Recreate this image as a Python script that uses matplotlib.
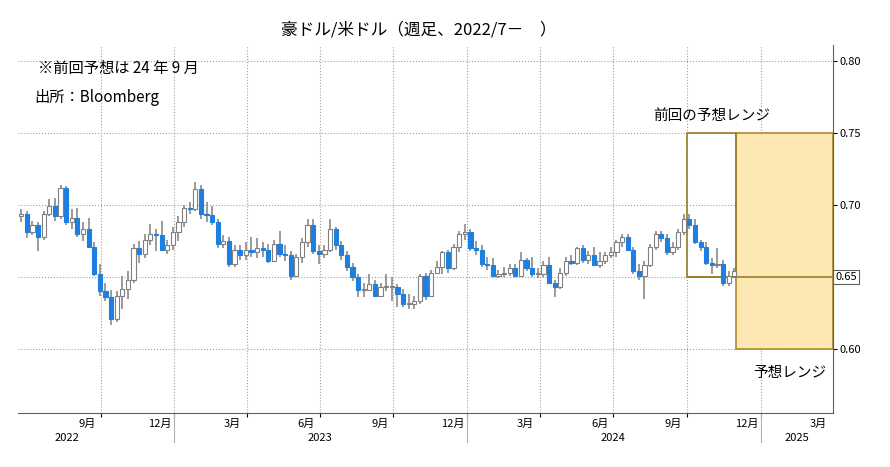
import matplotlib
matplotlib.use("Agg")
import matplotlib.pyplot as plt
import matplotlib.dates as mdates
import matplotlib.transforms as mtrans
import pandas as pd
from matplotlib.patches import Rectangle

plt.rcParams['font.family'] = ['Noto Sans CJK JP', 'DejaVu Sans']

start_date = "2022-06-24"
opens = [0.692,0.694,0.681,0.686,0.678,0.694,0.699,0.692,0.712,0.688,0.691,0.680,0.683,0.671,0.652,0.640,0.636,0.621,0.637,0.642,
0.648,0.670,0.666,0.676,0.680,0.679,0.669,0.672,0.681,0.688,0.698,0.697,0.711,0.694,0.693,0.688,0.673,0.675,0.659,0.669,
0.665,0.669,0.667,0.670,0.669,0.661,0.673,0.666,0.665,0.651,0.664,0.674,0.686,0.668,0.666,0.669,0.683,0.672,0.665,0.657,
0.650,0.641,0.641,0.645,0.637,0.643,0.643,0.643,0.638,0.631,0.631,0.633,0.651,0.637,0.653,0.657,0.667,0.656,0.671,0.680,
0.681,0.670,0.669,0.659,0.658,0.651,0.652,0.653,0.656,0.651,0.662,0.656,0.652,0.652,0.658,0.646,0.643,0.653,0.661,0.660,
0.670,0.662,0.665,0.658,0.661,0.665,0.667,0.674,0.678,0.669,0.654,0.651,0.658,0.671,0.680,0.677,0.667,0.671,0.681,0.690,
0.686,0.674,0.671,0.660,0.658,0.659,0.646,0.651]
closes = [0.694,0.681,0.686,0.678,0.694,0.699,0.692,0.712,0.688,0.691,0.680,0.683,0.671,0.652,0.640,0.636,0.621,0.637,0.642,0.648,
0.670,0.666,0.676,0.680,0.679,0.669,0.672,0.681,0.688,0.698,0.697,0.711,0.694,0.693,0.688,0.673,0.675,0.659,0.669,0.665,
0.669,0.667,0.670,0.669,0.661,0.673,0.666,0.665,0.651,0.664,0.674,0.686,0.668,0.666,0.669,0.683,0.672,0.665,0.657,0.650,
0.641,0.641,0.645,0.637,0.643,0.643,0.643,0.638,0.631,0.631,0.633,0.651,0.637,0.653,0.657,0.667,0.656,0.671,0.680,0.681,
0.670,0.669,0.659,0.658,0.651,0.652,0.653,0.656,0.651,0.662,0.656,0.652,0.652,0.658,0.646,0.643,0.653,0.661,0.660,0.670,
0.662,0.665,0.658,0.661,0.665,0.667,0.674,0.678,0.669,0.654,0.651,0.658,0.671,0.680,0.677,0.667,0.671,0.681,0.690,0.686,
0.674,0.671,0.660,0.658,0.659,0.646,0.651,0.654]
highs = [0.697,0.696,0.689,0.688,0.696,0.704,0.705,0.714,0.713,0.697,0.698,0.688,0.691,0.674,0.659,0.646,0.641,0.640,0.651,0.654,
0.673,0.675,0.680,0.687,0.683,0.689,0.676,0.685,0.692,0.700,0.702,0.716,0.714,0.702,0.699,0.690,0.679,0.678,0.672,0.672,
0.674,0.678,0.677,0.674,0.673,0.676,0.682,0.672,0.668,0.666,0.677,0.690,0.690,0.672,0.672,0.690,0.685,0.675,0.668,0.660,
0.652,0.646,0.652,0.648,0.646,0.652,0.650,0.645,0.642,0.638,0.637,0.652,0.653,0.655,0.661,0.668,0.669,0.673,0.682,0.687,
0.683,0.675,0.672,0.664,0.663,0.655,0.657,0.659,0.659,0.667,0.663,0.664,0.656,0.661,0.664,0.648,0.656,0.664,0.665,0.671,
0.672,0.668,0.671,0.667,0.667,0.671,0.676,0.680,0.680,0.671,0.659,0.661,0.673,0.682,0.682,0.680,0.674,0.683,0.694,0.694,
0.690,0.676,0.674,0.663,0.670,0.662,0.654,0.656]
lows = [0.688,0.677,0.679,0.668,0.676,0.692,0.689,0.690,0.686,0.683,0.678,0.675,0.670,0.651,0.637,0.633,0.617,0.619,0.628,0.635,
0.646,0.660,0.663,0.672,0.668,0.668,0.666,0.669,0.675,0.685,0.694,0.696,0.690,0.688,0.686,0.670,0.670,0.657,0.657,0.662,
0.662,0.664,0.663,0.664,0.660,0.661,0.664,0.661,0.648,0.650,0.660,0.671,0.666,0.659,0.663,0.667,0.669,0.662,0.654,0.647,
0.636,0.636,0.640,0.636,0.636,0.640,0.633,0.629,0.629,0.628,0.628,0.631,0.634,0.636,0.652,0.652,0.653,0.655,0.667,0.676,
0.668,0.665,0.657,0.655,0.650,0.649,0.650,0.651,0.650,0.650,0.654,0.650,0.649,0.650,0.645,0.636,0.642,0.651,0.658,0.658,
0.660,0.659,0.658,0.656,0.659,0.663,0.664,0.671,0.668,0.652,0.648,0.635,0.657,0.669,0.674,0.665,0.665,0.669,0.679,0.683,
0.673,0.668,0.658,0.652,0.656,0.644,0.644,0.650]

prev_range = (0.65, 0.75, "2024-10-01", "2024-12-01")
new_range = (0.60, 0.75, "2024-12-01", "2025-04-01")
last_label = "0.65"
yticks = [0.60, 0.65, 0.70, 0.75, 0.80]
month_labels = [("2022-09-14","9月"),("2022-12-14","12月"),("2023-03-14","3月"),("2023-06-14","6月"),
                ("2023-09-14","9月"),("2023-12-14","12月"),("2024-03-14","3月"),("2024-06-14","6月"),
                ("2024-09-14","9月"),("2024-12-14","12月"),("2025-03-14","3月")]
year_labels = [("2022-08-20","2022"),("2023-07-01","2023"),("2024-07-01","2024"),("2025-02-15","2025")]

dates = pd.date_range(start_date, periods=len(closes), freq="7D")
x = mdates.date2num(dates)

fig = plt.figure(figsize=(8.9, 4.67), dpi=100)
ax = fig.add_axes([18/890, 1-413/467, (833-18)/890, (413-45)/467])
ax.set_xlim(mdates.datestr2num("2022-06-20"), mdates.datestr2num("2025-04-01"))
ax.set_ylim(0.5556, 0.811)

p0, p1, pa, pb = prev_range
xa, xb = mdates.datestr2num(pa), mdates.datestr2num(pb)
ax.add_patch(Rectangle((xa, p0), xb-xa, p1-p0, fill=False, ec="#9a7d2a", lw=1.2, zorder=3))
n0, n1, na, nb = new_range
xa2, xb2 = mdates.datestr2num(na), mdates.datestr2num(nb)
ax.add_patch(Rectangle((xa2, n0), xb2-xa2, n1-n0, fc="#fde8b4", ec="#b08a2a", lw=1.2, zorder=2))
ax.plot([xa, xb2], [p0, p0], color="#9a7d2a", lw=1.2, zorder=3)

for xi, o, c, h, l in zip(x, opens, closes, highs, lows):
    up = c >= o
    ax.vlines(xi, l, h, color="#808080", lw=1.1, zorder=4)
    bot, top = min(o, c), max(o, c)
    hgt = max(top-bot, 0.0008)
    ax.add_patch(Rectangle((xi-2.6, bot), 5.2, hgt, fc="white" if up else "#1f7fe0",
                           ec="#808080" if up else "#1f7fe0", lw=0.8, zorder=5))

ax.yaxis.tick_right()
ax.set_yticks(yticks)
ax.set_yticklabels(["" if f"{v:.2f}" == last_label else f"{v:.2f}" for v in yticks], fontsize=8)
ax.tick_params(axis='y', length=3, pad=2)
ax.grid(axis='y', ls=':', color='#a0a0a0', lw=0.8)
qs = ["2022-10-01","2023-01-01","2023-04-01","2023-07-01","2023-10-01","2024-01-01","2024-04-01","2024-07-01","2024-10-01","2025-01-01"]
ax.set_xticks([mdates.datestr2num(q) for q in qs])
ax.set_xticklabels([])
ax.tick_params(axis='x', length=3)
for q in qs:
    ax.axvline(mdates.datestr2num(q), ls=':', color='#a0a0a0', lw=0.8, zorder=1)
for s in ["top", "left"]:
    ax.spines[s].set_visible(False)
ax.spines["right"].set_color("#606060")
ax.spines["bottom"].set_color("#606060")

tr = mtrans.blended_transform_factory(ax.transData, ax.transAxes)
for d, t in month_labels:
    ax.text(mdates.datestr2num(d), -0.015, t, transform=tr, ha="center", va="top", fontsize=8)
for d, t in year_labels:
    ax.text(mdates.datestr2num(d), -0.055, t, transform=tr, ha="center", va="top", fontsize=8)
for d in ["2023-01-01", "2024-01-01", "2025-01-01"]:
    ax.plot([mdates.datestr2num(d)]*2, [0, -0.08], transform=tr, color="#b0b0b0", lw=0.8, clip_on=False)

ax.text(1.003, p0, last_label, transform=mtrans.blended_transform_factory(ax.transAxes, ax.transData),
        ha="left", va="center", fontsize=8, bbox=dict(fc="white", ec="#606060", lw=0.8, pad=1.5), zorder=10)

fig.text(0.47, 1-30/467, "豪ドル/米ドル（週足、2022/7－　）", ha="center", va="center", fontsize=12)
fig.text(38/890, 1-68/467, "※前回予想は 24 年 9 月", ha="left", va="center", fontsize=11)
fig.text(34/890, 1-98/467, "出所：Bloomberg", ha="left", va="center", fontsize=11)
fig.text(712/890, 1-116/467, "前回の予想レンジ", ha="center", va="center", fontsize=10.5)
fig.text(790/890, 1-373/467, "予想レンジ", ha="center", va="center", fontsize=10.5)

fig.savefig("out.png", dpi=100, facecolor="white")
